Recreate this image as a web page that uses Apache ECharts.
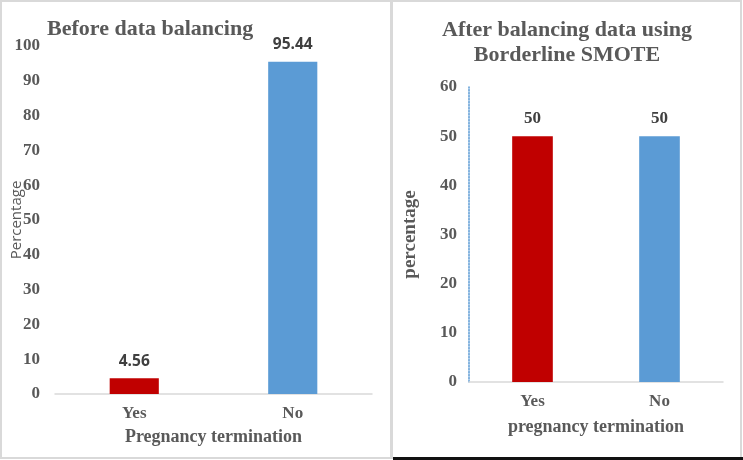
<!DOCTYPE html>
<html>
<head>
<meta charset="utf-8">
<script src="https://cdn.jsdelivr.net/npm/echarts@6/dist/echarts.min.js"></script>
<style>
html,body{margin:0;padding:0;background:#fff;}
#c{width:743px;height:460px;}
</style>
</head>
<body>
<div id="c"></div>
<script>
var categories = ['Yes', 'No'];
var beforeValues = [4.56, 95.44];
var afterValues = [50, 50];
var barColors = ['#C00000', '#5B9BD5'];
var beforeTitle = 'Before data balancing';
var afterTitle = 'After balancing data using\nBorderline SMOTE';

var serif = '"Liberation Serif", "DejaVu Serif", serif';
var sans = '"Open Sans", "Liberation Sans", sans-serif';
var gray = '#595959';

function dataFor(vals) {
  return vals.map(function (v, i) {
    return { value: v, itemStyle: { color: barColors[i] } };
  });
}

var chart = echarts.init(document.getElementById('c'), null, { renderer: 'canvas' });
chart.setOption({
  backgroundColor: '#ffffff',
  animation: false,
  graphic: [
    { type: 'rect', shape: { x: 1, y: 1, width: 390, height: 457 }, style: { fill: 'none', stroke: '#d9d9d9', lineWidth: 2 }, z: -1 },
    { type: 'rect', shape: { x: 392, y: 1, width: 349, height: 457 }, style: { fill: 'none', stroke: '#d9d9d9', lineWidth: 2 }, z: -1 },
    { type: 'rect', shape: { x: 393, y: 457, width: 350, height: 3 }, style: { fill: '#111111' }, z: -1 }
  ],
  title: [
    { text: beforeTitle, left: 42, top: 13, textStyle: { fontFamily: serif, fontWeight: 'bold', fontSize: 22, color: gray } },
    { text: afterTitle, left: 562, textAlign: 'center', top: 13, textStyle: { fontFamily: serif, fontWeight: 'bold', fontSize: 22, color: gray, lineHeight: 25, align: 'center' } }
  ],
  grid: [
    { left: 55, right: 371, top: 46, bottom: 66, outerBoundsMode: 'none' },
    { left: 469, right: 20, top: 87, bottom: 78, outerBoundsMode: 'none' }
  ],
  xAxis: [
    {
      type: 'category', gridIndex: 0, data: categories,
      name: 'Pregnancy termination', nameLocation: 'middle', nameGap: 34, nameMoveOverlap: false,
      nameTextStyle: { fontFamily: serif, fontWeight: 'bold', fontSize: 18, color: gray },
      axisLine: { lineStyle: { color: '#d9d9d9', width: 1.5 } },
      axisTick: { show: false },
      axisLabel: { margin: 11, fontFamily: serif, fontWeight: 'bold', fontSize: 17, color: gray }
    },
    {
      type: 'category', gridIndex: 1, data: categories,
      name: 'pregnancy termination', nameLocation: 'middle', nameGap: 36, nameMoveOverlap: false,
      nameTextStyle: { fontFamily: serif, fontWeight: 'bold', fontSize: 18, color: gray },
      axisLine: { lineStyle: { color: '#d9d9d9', width: 1.5 } },
      axisTick: { show: false },
      axisLabel: { margin: 11, fontFamily: serif, fontWeight: 'bold', fontSize: 17, color: gray }
    }
  ],
  yAxis: [
    {
      type: 'value', gridIndex: 0, min: 0, max: 100, interval: 10,
      name: 'Percentage', nameLocation: 'middle', nameGap: 31, nameMoveOverlap: false,
      nameTextStyle: { fontFamily: sans, fontSize: 15, color: gray },
      axisLine: { show: false }, axisTick: { show: false }, splitLine: { show: false },
      axisLabel: { margin: 15, fontFamily: serif, fontWeight: 'bold', fontSize: 17, color: gray }
    },
    {
      type: 'value', gridIndex: 1, min: 0, max: 60, interval: 10,
      name: 'percentage', nameLocation: 'middle', nameGap: 49, nameMoveOverlap: false,
      nameTextStyle: { fontFamily: serif, fontWeight: 'bold', fontSize: 19, color: gray },
      axisLine: { show: true, lineStyle: { color: '#5B9BD5', type: 'dotted', width: 1.5 } },
      axisTick: { show: false }, splitLine: { show: false },
      axisLabel: { margin: 12, fontFamily: serif, fontWeight: 'bold', fontSize: 17, color: gray }
    }
  ],
  series: [
    {
      type: 'bar', xAxisIndex: 0, yAxisIndex: 0, barWidth: '31%',
      data: dataFor(beforeValues),
      label: { show: true, position: 'top', distance: 9, fontFamily: sans, fontWeight: 'bold', fontSize: 15.5, color: '#404040' }
    },
    {
      type: 'bar', xAxisIndex: 1, yAxisIndex: 1, barWidth: '32%',
      data: dataFor(afterValues),
      label: { show: true, position: 'top', distance: 9, fontFamily: serif, fontWeight: 'bold', fontSize: 17, color: '#404040' }
    }
  ]
});
</script>
</body>
</html>
